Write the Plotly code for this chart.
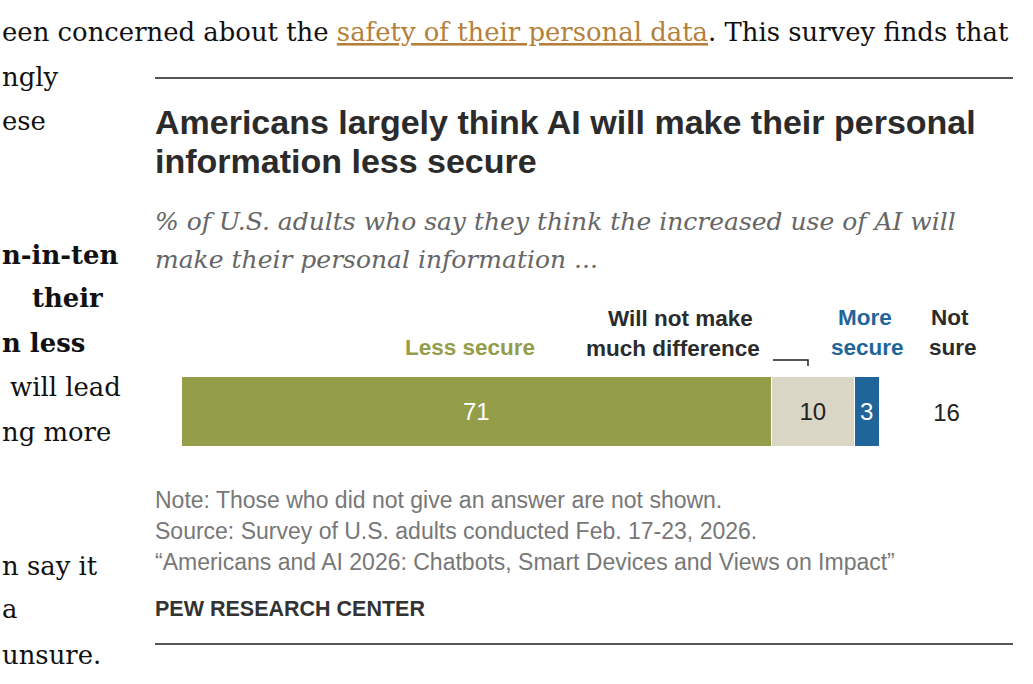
import plotly.graph_objects as go

W, H = 1033, 684

# ---- data ----
categories = ["Less secure", "Will not make much difference", "More secure", "Not sure"]
values = [71, 10, 3, 16]
bar_colors = ["#949d48", "#dad6c6", "#1f6599", "rgba(0,0,0,0)"]
label_colors = ["#ffffff", "#222222", "#ffffff", "#222222"]
row = ["All adults"]

SERIF = "DejaVu Serif, Georgia, serif"
SANS = "Liberation Sans, Arial, sans-serif"


def X(px):
    return px / W


def Y(py):
    return 1 - py / H


fig = go.Figure()
for cat, val, col, tcol in zip(categories, values, bar_colors, label_colors):
    fig.add_trace(go.Bar(
        y=row, x=[val], orientation="h", name=cat,
        marker=dict(color=col, line=dict(color="white", width=1.5 if col != "rgba(0,0,0,0)" else 0)),
        text=[str(val)], textposition="inside", insidetextanchor="middle",
        textangle=0, constraintext="none",
        textfont=dict(family=SANS, size=24, color=tcol),
        hoverinfo="skip", showlegend=False,
    ))

ann = []


def add(text, x, y, size, color, family, xanchor="left", yanchor="middle"):
    ann.append(dict(text=text, x=X(x), y=Y(y), xref="paper", yref="paper",
                    xanchor=xanchor, yanchor=yanchor, showarrow=False,
                    font=dict(size=size, color=color, family=family)))


# surrounding article text
add("een concerned about the <span style='color:#b5803b'><u>safety of their personal data</u></span>. This survey finds that",
    0, 32, 25.9, "#111", SERIF)
left_lines = [
    ("ngly", 0, 77, False), ("ese", 0, 121, False),
    ("n-in-ten", 0, 255, True), ("their", 30, 298, True), ("n less", 0, 343, True),
    ("will lead", 8, 387, False), ("ng more", 0, 432, False),
    ("n say it", 0, 566, False), ("a", 0, 609, False), ("unsure.", 0, 655, False),
]
for t, x, y, b in left_lines:
    add(f"<b>{t}</b>" if b else t, x, y, 25.9, "#111", SERIF)

# title / subtitle
add("<b>Americans largely think AI will make their personal</b>", 153, 122, 34, "#2b2b2b", SANS)
add("<b>information less secure</b>", 153, 161, 34, "#2b2b2b", SANS)
add("<i>% of U.S. adults who say they think the increased use of AI will</i>", 153, 221, 25, "#666", SERIF)
add("<i>make their personal information ...</i>", 153, 259, 25, "#666", SERIF)

# category labels
add("<b>Less secure</b>", 537, 347, 22.5, "#949d48", SANS, xanchor="right")
add("<b>Will not make</b>", 680, 318, 22.5, "#2b2b2b", SANS, xanchor="center")
add("<b>much difference</b>", 673, 348, 22.5, "#2b2b2b", SANS, xanchor="center")
add("<b>More</b>", 865, 317, 22.5, "#1f6599", SANS, xanchor="center")
add("<b>secure</b>", 867, 347, 22.5, "#1f6599", SANS, xanchor="center")
add("<b>Not</b>", 950, 317, 22.5, "#2b2b2b", SANS, xanchor="center")
add("<b>sure</b>", 953, 347, 22.5, "#2b2b2b", SANS, xanchor="center")

# notes
add("Note: Those who did not give an answer are not shown.", 153, 500, 23, "#777", SANS)
add("Source: Survey of U.S. adults conducted Feb. 17-23, 2026.", 153, 531, 23, "#777", SANS)
add("\u201cAmericans and AI 2026: Chatbots, Smart Devices and Views on Impact\u201d", 153, 562, 23, "#777", SANS)
add("<b>PEW RESEARCH CENTER</b>", 153, 609, 21.5, "#333", SANS)

shapes = [
    dict(type="line", xref="paper", yref="paper", x0=X(155), x1=X(1013), y0=Y(78), y1=Y(78),
         line=dict(color="#555", width=2)),
    dict(type="line", xref="paper", yref="paper", x0=X(155), x1=X(1013), y0=Y(644), y1=Y(644),
         line=dict(color="#555", width=2)),
    dict(type="path", xref="paper", yref="paper",
         path=f"M {X(773)},{Y(360)} L {X(808)},{Y(360)} L {X(808)},{Y(366)}",
         line=dict(color="#222", width=1.5)),
]

fig.update_layout(
    width=W, height=H, margin=dict(l=0, r=0, t=0, b=0),
    paper_bgcolor="white", plot_bgcolor="rgba(0,0,0,0)",
    barmode="stack", bargap=0,
    xaxis=dict(domain=[X(182), X(1013)], range=[0, 100], visible=False, fixedrange=True),
    yaxis=dict(domain=[Y(447), Y(377)], range=[-0.5, 0.5], visible=False, fixedrange=True),
    annotations=ann, shapes=shapes,
)

fig.write_html("out.html")
